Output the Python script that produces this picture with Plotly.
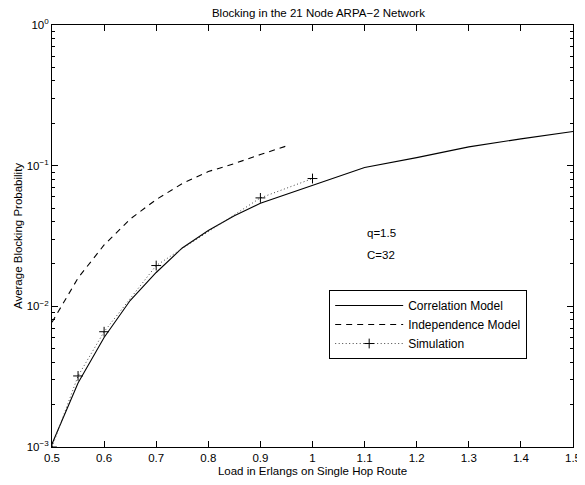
import math
import plotly.graph_objects as go

# Data
corr_x = [0.5, 0.55, 0.6, 0.65, 0.7, 0.75, 0.8, 0.85, 0.9, 1.0, 1.1, 1.2, 1.3, 1.4, 1.5]
corr_y = [1.05e-3, 2.85e-3, 6.0e-3, 1.1e-2, 1.74e-2, 2.6e-2, 3.46e-2, 4.4e-2, 5.4e-2,
          7.2e-2, 9.7e-2, 1.14e-1, 1.36e-1, 1.55e-1, 1.75e-1]

indep_x = [0.5, 0.55, 0.6, 0.65, 0.7, 0.75, 0.8, 0.85, 0.9, 0.95]
indep_y = [7.7e-3, 1.59e-2, 2.73e-2, 4.17e-2, 5.74e-2, 7.46e-2, 9.08e-2, 1.035e-1, 1.20e-1, 1.38e-1]

sim_x = [0.5, 0.55, 0.6, 0.7, 0.9, 1.0]
sim_y = [1.0e-3, 3.2e-3, 6.6e-3, 1.95e-2, 5.9e-2, 8.1e-2]

x_ticks = [0.5, 0.6, 0.7, 0.8, 0.9, 1.0, 1.1, 1.2, 1.3, 1.4, 1.5]
x_ticklabels = ["0.5", "0.6", "0.7", "0.8", "0.9", "1", "1.1", "1.2", "1.3", "1.4", "1.5"]
y_ticks = [1e-3, 1e-2, 1e-1, 1e0]
y_ticklabels = ["10<sup>−3</sup>", "10<sup>−2</sup>", "10<sup>−1</sup>", "10<sup>0</sup>"]
y_minor = [m * 10.0 ** e for e in (-3, -2, -1) for m in range(2, 10)]

note_x = 1.1
note_q_y = 0.0332
note_c_y = 0.0232

font = "Liberation Sans, Arial, Helvetica, sans-serif"
fs = 11.5

fig = go.Figure()
fig.add_trace(go.Scatter(x=corr_x, y=corr_y, mode="lines", name="Correlation Model",
                         line=dict(color="black", width=1.1)))
fig.add_trace(go.Scatter(x=indep_x, y=indep_y, mode="lines", name="Independence Model",
                         line=dict(color="black", width=1.1, dash="6px,5px")))
fig.add_trace(go.Scatter(x=sim_x, y=sim_y, mode="lines+markers", name="Simulation",
                         line=dict(color="#444", width=1, dash="1px,2.5px"),
                         marker=dict(symbol="cross-thin", size=7,
                                     line=dict(color="black", width=1))))

# the page puts the figure 8px in from the top-left corner
fig.update_layout(
    width=577, height=477,
    margin=dict(l=44, r=12, t=17, b=38, autoexpand=False),
    paper_bgcolor="white", plot_bgcolor="white",
    font=dict(family=font, size=fs, color="black"),
    title=dict(text="Blocking in the 21 Node ARPA−2 Network", x=0.538, xanchor="center",
               y=0.989, yanchor="middle", font=dict(size=fs), automargin=False),
    showlegend=True,
    legend=dict(x=0.532, y=0.372, xanchor="left", yanchor="top",
                bordercolor="black", borderwidth=1, bgcolor="white",
                font=dict(size=12), tracegroupgap=0, itemwidth=68),
)
fig.update_xaxes(range=[0.5, 1.5], tickvals=x_ticks, ticktext=x_ticklabels,
                 ticks="inside", ticklen=6, tickwidth=1, tickcolor="black", showline=True,
                 linecolor="black", mirror="ticks", showgrid=False,
                 zeroline=False, tickfont=dict(size=fs), automargin=False,
                 title=dict(text="Load in Erlangs on Single Hop Route", font=dict(size=fs),
                            standoff=4))
fig.update_yaxes(type="log", range=[-3, 0], tickvals=y_ticks, ticktext=y_ticklabels,
                 ticks="inside", ticklen=6, tickwidth=1, tickcolor="black", showline=True,
                 linecolor="black", mirror="ticks", showgrid=False,
                 zeroline=False, tickfont=dict(size=fs), automargin=False,
                 minor=dict(tickvals=y_minor, ticks="inside", ticklen=3, tickwidth=1,
                            tickcolor="black", showgrid=False),
                 title=dict(text="Average Blocking Probability", font=dict(size=fs),
                            standoff=1))

fig.add_annotation(x=note_x, y=math.log10(note_q_y), xref="x", yref="y", yanchor="middle",
                   text="q=1.5", showarrow=False, font=dict(size=fs), xanchor="left")
fig.add_annotation(x=note_x, y=math.log10(note_c_y), xref="x", yref="y", yanchor="middle",
                   text="C=32", showarrow=False, font=dict(size=fs), xanchor="left")

fig.write_html("out.html")
